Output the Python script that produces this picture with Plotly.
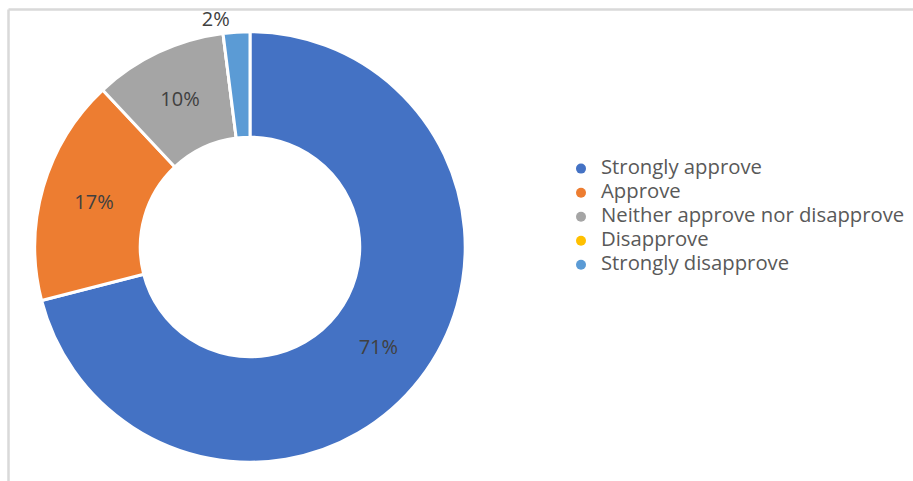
import plotly.graph_objects as go

categories = ["Strongly approve", "Approve", "Neither approve nor disapprove", "Disapprove", "Strongly disapprove"]
values = [71, 17, 10, 0, 2]
colors = ["#4472C4", "#ED7D31", "#A5A5A5", "#FFC000", "#5B9BD5"]
text_positions = ["inside", "inside", "inside", "none", "outside"]

W, H = 913, 481
cx, cy, r = 250, 245, 217

fig = go.Figure()
fig.add_trace(go.Pie(
    labels=categories,
    values=values,
    sort=False,
    direction="clockwise",
    rotation=0,
    hole=0.51,
    marker=dict(colors=colors, line=dict(color="white", width=3)),
    texttemplate="%{percent:.0%}",
    textposition=text_positions,
    insidetextorientation="horizontal",
    textfont=dict(family="Open Sans", size=20, color="#404040"),
    insidetextfont=dict(family="Open Sans", size=20, color="#404040"),
    outsidetextfont=dict(family="Open Sans", size=20, color="#404040"),
    showlegend=False,
    hoverinfo="label+percent",
    domain=dict(x=[(cx - r) / W, (cx + r) / W], y=[1 - (cy + r) / H, 1 - (cy - r) / H]),
))

# legend drawn as category scatters so row spacing matches the reference
row_gap = 24.25
leg_mid = 214.5
fig.add_trace(go.Scatter(
    x=[0] * len(categories), y=categories,
    mode="markers",
    marker=dict(symbol="circle", size=10, color=colors),
    cliponaxis=False,
    hoverinfo="skip",
    showlegend=False,
))
fig.add_trace(go.Scatter(
    x=[0] * len(categories), y=categories,
    xaxis="x2", yaxis="y",
    mode="text",
    text=categories,
    textposition="middle right",
    textfont=dict(family="Open Sans", size=20.3, color="#595959"),
    cliponaxis=False,
    hoverinfo="skip",
    showlegend=False,
))

half = row_gap * len(categories) / 2
fig.update_layout(
    width=W, height=H,
    margin=dict(l=0, r=0, t=0, b=0),
    paper_bgcolor="white",
    plot_bgcolor="rgba(0,0,0,0)",
    xaxis=dict(visible=False, range=[0, 1], domain=[581 / W, 1], fixedrange=True),
    xaxis2=dict(visible=False, range=[0, 1], domain=[601 / W, 1], fixedrange=True, anchor="y"),
    yaxis=dict(visible=False, type="category", categoryorder="array", categoryarray=categories,
               range=[len(categories) - 0.5, -0.5],
               domain=[1 - (leg_mid + half) / H, 1 - (leg_mid - half) / H], fixedrange=True),
    shapes=[
        dict(type="line", xref="paper", yref="paper",
             x0=8.5 / W, x1=1, y0=1 - 5.5 / H, y1=1 - 5.5 / H,
             line=dict(color="#D9D9D9", width=2.5)),
        dict(type="line", xref="paper", yref="paper",
             x0=8.5 / W, x1=8.5 / W, y0=0, y1=1 - 5.5 / H,
             line=dict(color="#D9D9D9", width=2.5)),
    ],
)

fig.write_html("out.html", config={"displayModeBar": False},
               post_script="document.body.style.margin='0px';")
